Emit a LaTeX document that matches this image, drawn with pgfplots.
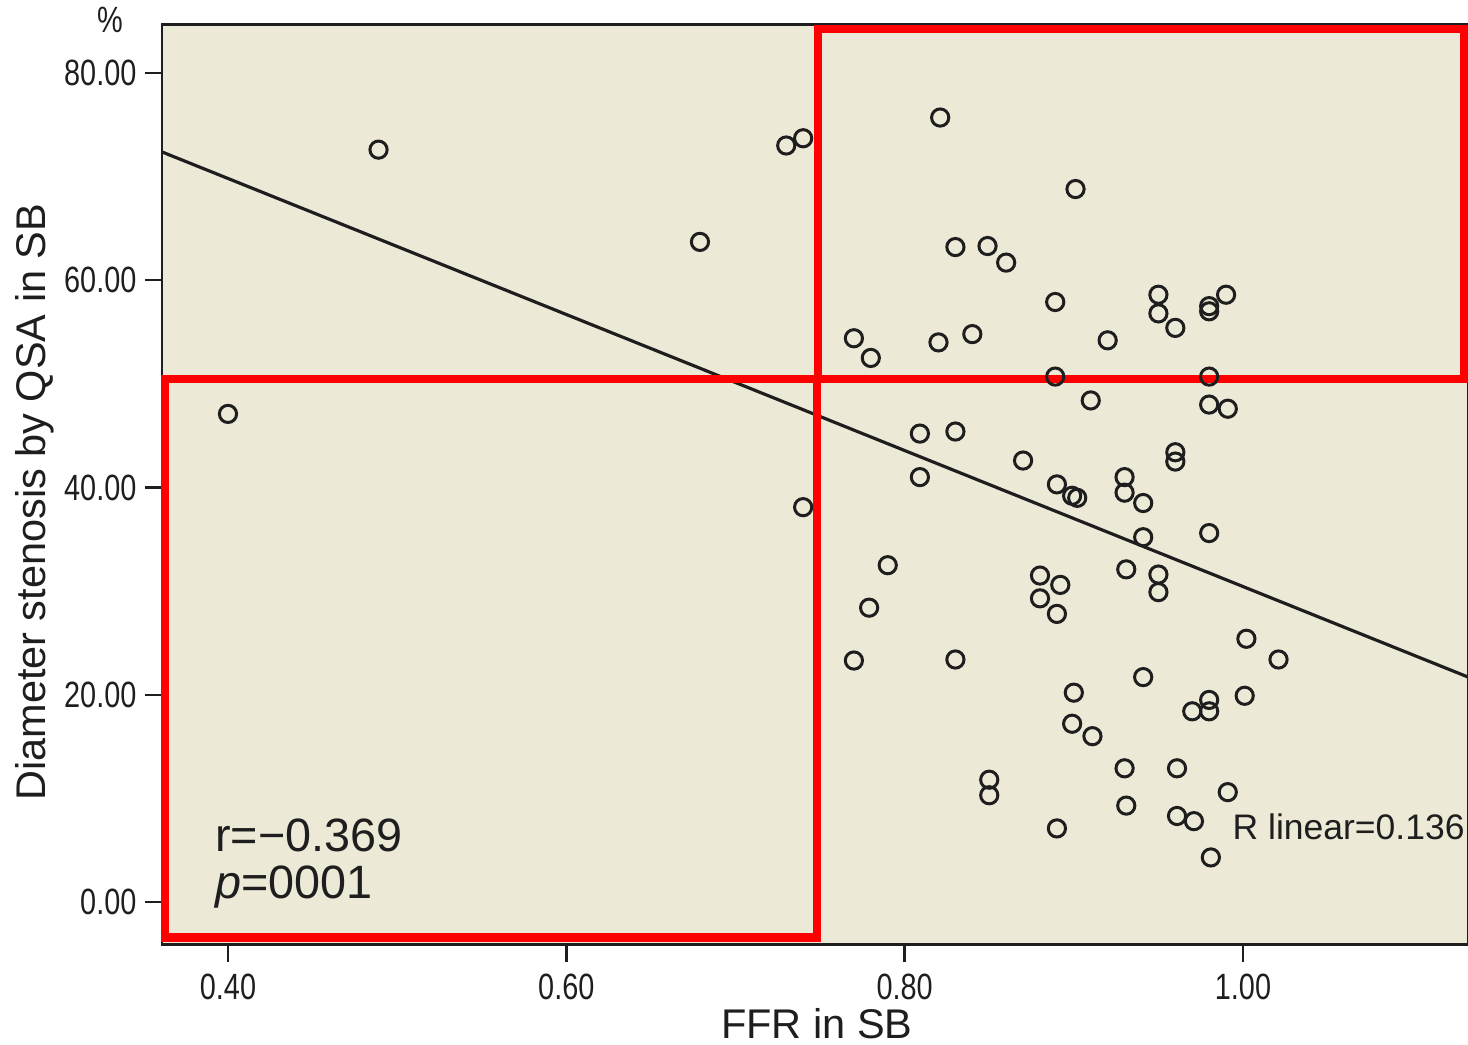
\documentclass[border=0pt]{standalone}
\usepackage{fontspec}
\setmainfont{Liberation Sans}
\newfontfamily\narrowfont[FakeStretch=0.79]{Liberation Sans}
\usepackage{pgfplots}
\pgfplotsset{compat=1.18}
\definecolor{panel}{HTML}{ECE9D7}
\definecolor{ink}{HTML}{1E1E1E}
\definecolor{hilite}{HTML}{FF0000}

\pgfplotstableread{
x y
0.400 47.1
0.489 72.6
0.679 63.7
0.730 73.0
0.740 73.7
0.740 38.1
0.821 75.7
0.901 68.8
0.830 63.2
0.849 63.3
0.860 61.7
0.889 57.9
0.950 58.6
0.950 56.8
0.960 55.4
0.980 57.5
0.980 57.0
0.990 58.6
0.770 54.4
0.780 52.5
0.820 54.0
0.840 54.8
0.920 54.2
0.889 50.7
0.980 50.7
0.910 48.4
0.980 48.0
0.991 47.6
0.809 45.2
0.830 45.4
0.870 42.6
0.960 43.4
0.960 42.5
0.809 41.0
0.890 40.3
0.899 39.2
0.902 39.0
0.930 41.0
0.930 39.5
0.941 38.5
0.980 35.6
0.941 35.2
0.790 32.5
0.880 31.5
0.892 30.6
0.880 29.3
0.890 27.8
0.931 32.1
0.950 31.6
0.950 29.9
0.779 28.4
1.002 25.4
0.770 23.3
0.830 23.4
1.021 23.4
0.941 21.7
0.900 20.2
0.980 19.5
0.970 18.4
0.980 18.4
1.001 19.9
0.899 17.2
0.911 16.0
0.930 12.9
0.961 12.9
0.850 11.8
0.850 10.3
0.991 10.6
0.931 9.3
0.961 8.3
0.971 7.8
0.890 7.1
0.981 4.3
}\ffrdata

\begin{document}
\begin{tikzpicture}
\useasboundingbox (-1.62cm,-1.00cm) rectangle (13.06cm,9.45cm);
\begin{axis}[
    at={(0,0)}, anchor=south west,
    scale only axis,
    width=13.06cm, height=9.205cm,
    xmin=0.361, xmax=1.133,
    ymin=-4.15, ymax=84.68,
    clip=false,
    axis background/.style={fill=panel},
    axis line style={draw=ink, line width=0.85pt},
    xtick={0.4,0.6,0.8,1.0},
    ytick={0,20,40,60,80},
    xtick pos=bottom, ytick pos=left,
    tick align=outside,
    major tick length=1.7mm,
    tick style={ink, line width=0.7pt},
    /pgf/number format/assume math mode=true,
    /pgf/number format/.cd, fixed, fixed zerofill, precision=2, /pgfplots/.cd,
    tick label style={font=\narrowfont\fontsize{10.4}{12}\selectfont, text=ink},
    yticklabel style={xshift=1.1pt},
    xlabel={FFR in SB},
    ylabel={Diameter stenosis by QSA in SB},
    label style={font=\fontsize{11.8}{14}\selectfont, text=ink},
    xlabel style={at={(axis description cs:0.5015,-0.086)}, anchor=center},
    ylabel style={at={(axis description cs:-0.0972,0.481)}, anchor=center},
]

% regression line
\addplot[ink, line width=0.9pt] coordinates {(0.361,72.38) (1.133,21.71)};

% observations
\addplot[only marks, mark=o, mark size=2.45pt,
    mark options={draw=ink, line width=0.85pt}] table {\ffrdata};

% highlight boxes
\draw[hilite, line width=2.3pt] (axis cs:0.7488,50.47) rectangle (axis cs:1.1306,84.2);
\draw[hilite, line width=2.3pt] (axis cs:0.3628,-3.43) rectangle (axis cs:0.7482,50.47);

\node[anchor=base west, font=\fontsize{13.3}{15}\selectfont, text=ink, inner sep=0pt]
    at (axis cs:0.392,4.9) {r=−0.369};
\node[anchor=base west, font=\fontsize{13.3}{15}\selectfont, text=ink, inner sep=0pt]
    at (axis cs:0.392,0.3) {\textit{p}=0001};
\node[anchor=base west, font=\fontsize{10.1}{12}\selectfont, text=ink, inner sep=0pt]
    at (axis cs:0.9935,6.0) {R linear=0.136};
\node[font=\narrowfont\fontsize{10.4}{12}\selectfont, text=ink]
    at (axis description cs:-0.0398,1.005) {\%};
\end{axis}
\end{tikzpicture}
\end{document}
